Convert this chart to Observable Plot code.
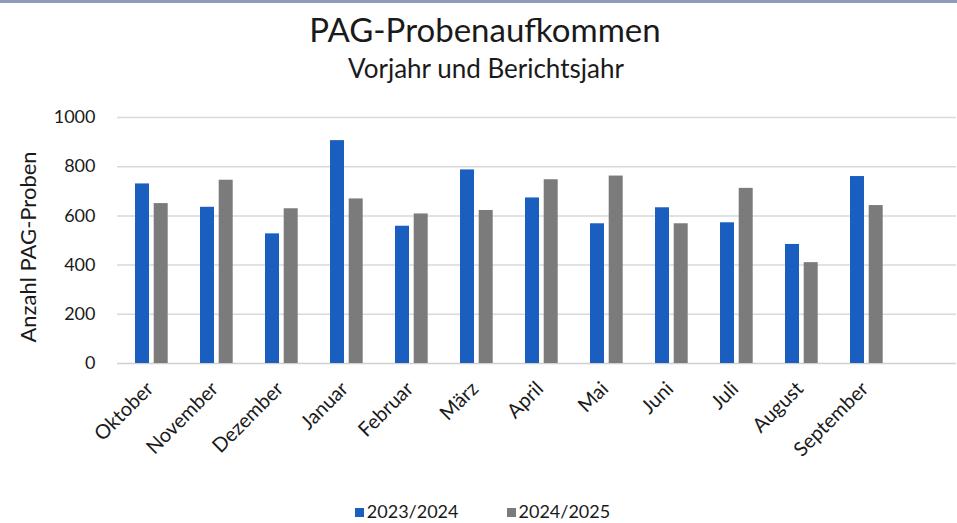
<!DOCTYPE html>
<html>
<head>
<meta charset="utf-8">
<script src="https://cdn.jsdelivr.net/npm/d3@7"></script>
<script src="https://cdn.jsdelivr.net/npm/@observablehq/plot@0.6"></script>
<style>
  html, body { margin: 0; padding: 0; background: #fff; }
  #wrap { position: relative; width: 957px; height: 523px; overflow: hidden; font-family: Lato, "Open Sans", sans-serif; color: #1a1a1a; }
  #topbar { position: absolute; left: 0; top: 0; width: 957px; height: 3px; background: #8e9bbb; }
  #title { position: absolute; left: 0; width: 970px; top: 9px; text-align: center; font-size: 33px; line-height: 40px; }
  #subtitle { position: absolute; left: 0; width: 972px; top: 53px; text-align: center; font-size: 26px; line-height: 30px; }
  #ylabel { position: absolute; left: 27px; top: 247px; transform: translate(-50%, -50%) rotate(-90deg); white-space: nowrap; font-size: 22px; }
  #chart { position: absolute; left: 0; top: 90px; }
  #legend { position: absolute; left: 0; width: 965px; top: 499px; text-align: center; font-size: 18px; line-height: 24px; }
  .sw { display: inline-block; width: 9px; height: 9px; margin-right: 3px; vertical-align: 1px; }
  .item { display: inline-block; margin: 0 24px; }
</style>
</head>
<body>
<div id="wrap">
  <div id="topbar"></div>
  <div id="title">PAG-Probenaufkommen</div>
  <div id="subtitle">Vorjahr und Berichtsjahr</div>
  <div id="ylabel">Anzahl PAG-Proben</div>
  <div id="chart"></div>
  <div id="legend"></div>
</div>
<script>
const months = ["Oktober", "November", "Dezember", "Januar", "Februar", "März", "April", "Mai", "Juni", "Juli", "August", "September"];
const seriesNames = ["2023/2024", "2024/2025"];
const values2023 = [730, 635, 527, 906, 558, 787, 673, 568, 633, 572, 484, 760];
const values2024 = [650, 745, 629, 669, 608, 622, 747, 762, 568, 712, 410, 642];
const yTicks = [0, 200, 400, 600, 800, 1000];
const colors = ["#1a5fbf", "#7b7b7b"];

const rows0 = months.map((m, i) => ({month: m, series: seriesNames[0], value: values2023[i]}));
const rows1 = months.map((m, i) => ({month: m, series: seriesNames[1], value: values2024[i]}));

const chart = Plot.plot({
  width: 957,
  height: 400,
  marginTop: 27,
  marginBottom: 127,
  marginLeft: 117,
  marginRight: 1,
  style: {fontFamily: "Lato, 'Open Sans', sans-serif", color: "#1a1a1a", background: "transparent"},
  x: {domain: months, range: [117.3, 903.3], padding: 0},
  y: {domain: [0, 1000]},
  marks: [
    Plot.ruleY(yTicks.filter(d => d > 0), {stroke: "#d9d9d9", strokeWidth: 1.5}),
    Plot.ruleY([0], {stroke: "#d0d0d0", strokeWidth: 1.5}),
    Plot.barY(rows0, {x: "month", y: "value", fill: colors[0], insetLeft: 15, insetRight: 36}),
    Plot.barY(rows1, {x: "month", y: "value", fill: colors[1], insetLeft: 33.7, insetRight: 17.3}),
    Plot.axisY({ticks: yTicks, tickFormat: d => String(d), tickSize: 0, tickPadding: 22, fontSize: 18, label: null}),
    Plot.axisX({tickRotate: -45, tickSize: 0, tickPadding: 22, fontSize: 20, label: null, dx: -3})
  ]
});
document.getElementById("chart").appendChild(chart);

const legend = document.getElementById("legend");
seriesNames.forEach((s, i) => {
  const it = document.createElement("span");
  it.className = "item";
  it.innerHTML = `<span class="sw" style="background:${colors[i]}"></span>${s}`;
  legend.appendChild(it);
});
</script>
</body>
</html>
